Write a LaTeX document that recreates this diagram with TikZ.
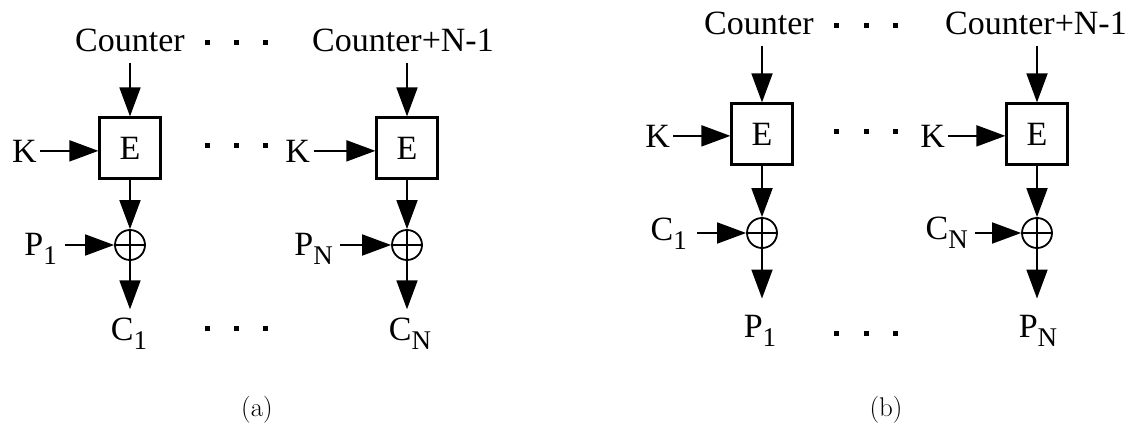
\documentclass[tikz,border=0pt]{standalone}
\usepackage{fontspec}
\newfontfamily\tfont{Liberation Serif}
\usetikzlibrary{arrows.meta}
\newcommand\lowsub[1]{\raisebox{-9pt}{\fontsize{27}{30}\selectfont #1}}
\tikzset{
  lbl/.style={font=\tfont\fontsize{34}{40}\selectfont, inner sep=0pt},
  enc/.style={lbl, draw, line width=2.2pt, minimum width=61pt, minimum height=61pt},
  xo/.style={circle, draw, line width=1.8pt, minimum size=30pt, inner sep=0pt,
    path picture={\draw[line width=1.8pt]
      (path picture bounding box.north) -- (path picture bounding box.south)
      (path picture bounding box.west) -- (path picture bounding box.east);}},
  flow/.style={line width=1.8pt, -{Triangle[length=29pt,width=21pt]}},
  captext/.style={font=\fontsize{27}{30}\selectfont, inner sep=0pt}
}
\begin{document}
\begin{tikzpicture}[x=1pt,y=-1pt]
\useasboundingbox (0,0) rectangle (1137,433);

% ---------- (a) encryption ----------
\node[lbl, anchor=base] (ca1) at (130,52) {Counter};
\node[enc] (ea1) at (130,148) {E};
\node[lbl, anchor=base east] (ka1) at (37,162) {K};
\node[xo] (xa1) at (130,245) {};
\node[lbl, anchor=base east] (pa1) at (57,255) {P\lowsub{1}};
\node[lbl, anchor=base] (oa1) at (129,340) {C\lowsub{1}};

\node[lbl, anchor=base] (ca2) at (403,52) {Counter+N-1};
\node[enc] (ea2) at (407,148) {E};
\node[lbl, anchor=base east] (ka2) at (310,162) {K};
\node[xo] (xa2) at (407,245) {};
\node[lbl, anchor=base east] (pa2) at (333,255) {P\lowsub{N}};
\node[lbl, anchor=base] (oa2) at (410,340) {C\lowsub{N}};

\draw[flow, shorten <=10pt] (ea1.north |- ca1.south) -- (ea1.north);
\draw[flow, shorten <=3pt] (ka1.east) -- (ea1.west |- ka1.east);
\draw[flow] (ea1.south) -- (xa1.north);
\draw[flow, shorten <=8pt] (pa1.east |- xa1.west) -- (xa1.west);
\draw[flow, shorten >=8pt] (xa1.south) -- (xa1.south |- oa1.north);

\draw[flow, shorten <=10pt] (ea2.north |- ca2.south) -- (ea2.north);
\draw[flow, shorten <=4pt] (ka2.east) -- (ea2.west |- ka2.east);
\draw[flow] (ea2.south) -- (xa2.north);
\draw[flow, shorten <=7pt] (pa2.east |- xa2.west) -- (xa2.west);
\draw[flow, shorten >=8pt] (xa2.south) -- (xa2.south |- oa2.north);

% ---------- (b) decryption ----------
\node[lbl, anchor=base] (cb1) at (759,35) {Counter};
\node[enc] (eb1) at (762,134) {E};
\node[lbl, anchor=base east] (kb1) at (670,147) {K};
\node[xo] (xb1) at (762,233) {};
\node[lbl, anchor=base east] (pb1) at (687,240) {C\lowsub{1}};
\node[lbl, anchor=base] (ob1) at (760,337) {P\lowsub{1}};

\node[lbl, anchor=base] (cb2) at (1036,35) {Counter+N-1};
\node[enc] (eb2) at (1037,134) {E};
\node[lbl, anchor=base east] (kb2) at (945,147) {K};
\node[xo] (xb2) at (1037,233) {};
\node[lbl, anchor=base east] (pb2) at (968,239) {C\lowsub{N}};
\node[lbl, anchor=base] (ob2) at (1038,337) {P\lowsub{N}};

\draw[flow, shorten <=10pt] (eb1.north |- cb1.south) -- (eb1.north);
\draw[flow, shorten <=3pt] (kb1.east) -- (eb1.west |- kb1.east);
\draw[flow] (eb1.south) -- (xb1.north);
\draw[flow, shorten <=10pt] (pb1.east |- xb1.west) -- (xb1.west);
\draw[flow, shorten >=16pt] (xb1.south) -- (xb1.south |- ob1.north);

\draw[flow, shorten <=10pt] (eb2.north |- cb2.south) -- (eb2.north);
\draw[flow, shorten <=3pt] (kb2.east) -- (eb2.west |- kb2.east);
\draw[flow] (eb2.south) -- (xb2.north);
\draw[flow, shorten <=7pt] (pb2.east |- xb2.west) -- (xb2.west);
\draw[flow, shorten >=16pt] (xb2.south) -- (xb2.south |- ob2.north);

% ellipsis dots
\foreach \x in {207,236,265} {
  \foreach \y in {43,145,328} \fill (\x-2.5,\y-2.5) rectangle ++(5,5);
}
\foreach \x in {836,866,895} {
  \foreach \y in {26,132,333} \fill (\x-2.5,\y-2.5) rectangle ++(5,5);
}

% captions
\node[captext] (capa) at (257,410) {(a)};
\node[captext] (capb) at (886,410) {(b)};
\end{tikzpicture}
\end{document}
